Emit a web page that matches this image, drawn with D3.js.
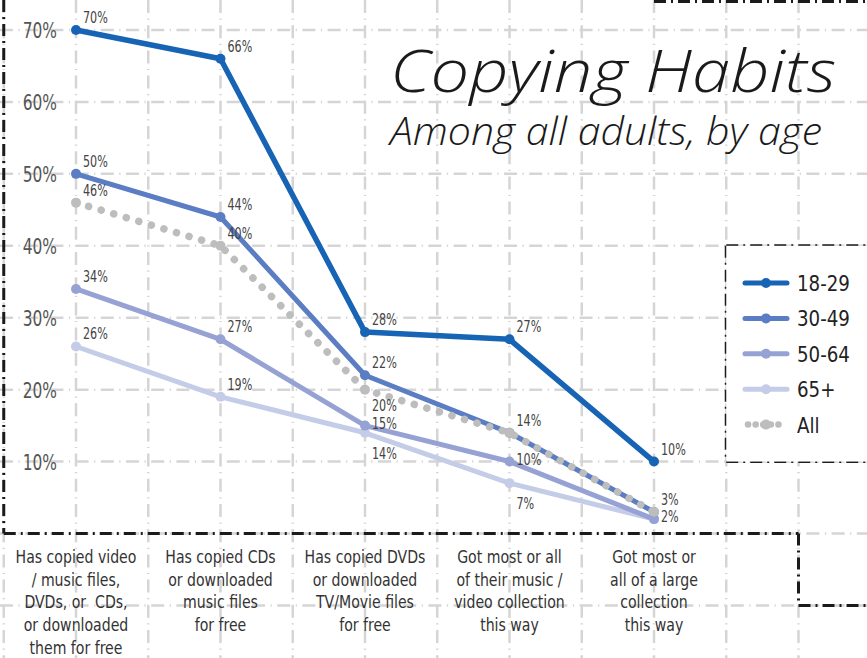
<!DOCTYPE html>
<html>
<head>
<meta charset="utf-8">
<script src="https://cdn.jsdelivr.net/npm/d3@7"></script>
<style>
  body { margin: 0; background: #fff; }
  svg { display: block; }
  text { font-family: "DejaVu Sans Condensed", "DejaVu Sans", sans-serif; }
</style>
</head>
<body>
<div id="chart"></div>
<script>
// categories (one entry per line of the wrapped label)
const categories = [
  ["Has copied video", "/ music files,", "DVDs, or  CDs,", "or downloaded", "them for free"],
  ["Has copied CDs", "or downloaded", "music files", "for free"],
  ["Has copied DVDs", "or downloaded", "TV/Movie files", "for free"],
  ["Got most or all", "of their music /", "video collection", "this way"],
  ["Got most or", "all of a large", "collection", "this way"]
];

// percent values per age group
const age18to29 = [70, 66, 28, 27, 10];
const age30to49 = [50, 44, 22, 14, 3];
const age50to64 = [34, 27, 15, 10, 2];
const age65plus = [26, 19, 14, 7, 2];
const allAdults = [46, 40, 20, 14, 3];

const yTicks = [10, 20, 30, 40, 50, 60, 70];
const seriesNames = ["18-29", "30-49", "50-64", "65+", "All"];

// where each value label sits: a = above right, r = right, b = below right,
// s = a little below, null = hidden (same value as another series)
const labelPlace = {
  "18-29": ["a", "a", "a", "a", "a"],
  "30-49": ["a", "a", "a", "a", "a"],
  "50-64": ["a", "a", "r", "r", "r"],
  "65+":   ["a", "a", "b", "b", null],
  "All":   ["a", "a", "s", null, null]
};

const colors = {
  "18-29": "#1764b4",
  "30-49": "#5a7dc3",
  "50-64": "#97a2d4",
  "65+":   "#c4cce8",
  "All":   "#bdbdbd"
};

const series = [
  {name: "18-29", values: age18to29},
  {name: "30-49", values: age30to49},
  {name: "50-64", values: age50to64},
  {name: "65+", values: age65plus},
  {name: "All", values: allAdults}
];
// drawing order: light first, "All" after 30-49 so dots sit on top
const drawOrder = ["65+", "50-64", "30-49", "All", "18-29"];

const w = 867, h = 658;

// squeeze text horizontally, the original uses a condensed face
function condense(sel, f) {
  sel.each(function() {
    const len = this.getComputedTextLength();
    d3.select(this)
      .attr("textLength", len * f)
      .attr("lengthAdjust", "spacingAndGlyphs");
  });
}

const svg = d3.select("#chart").append("svg")
  .attr("width", w)
  .attr("height", h);

const xScale = d3.scaleLinear().domain([0, 4]).range([76, 654]);
const yScale = d3.scaleLinear().domain([0, 70]).range([533.5, 30]);

// background grid, half a category wide
const grid = svg.append("g").attr("class", "grid");
d3.range(-1, 13).forEach(k => {
  grid.append("line")
    .attr("x1", xScale(k / 2)).attr("x2", xScale(k / 2))
    .attr("y1", 0).attr("y2", h);
});
d3.range(-20, 100, 10).forEach(v => {
  grid.append("line")
    .attr("x1", 0).attr("x2", w)
    .attr("y1", yScale(v)).attr("y2", yScale(v));
});
grid.selectAll("line")
  .attr("stroke", "#d5d5d5")
  .attr("stroke-width", 2.5)
  .attr("stroke-dasharray", "13,5.5,1.2,5.5");

// black dash-dot frames
const frame = svg.append("g").attr("class", "frame");
const frameLines = [
  [xScale(-0.5), 0, xScale(-0.5), yScale(0)],
  [xScale(-0.5), yScale(0), xScale(5), yScale(0)],
  [xScale(5), yScale(0), xScale(5), yScale(-10)],
  [xScale(5), yScale(-10), w, yScale(-10)],
  [xScale(4), 1.5, w, 1.5]
];

// legend box (white inside)
svg.append("rect")
  .attr("x", xScale(4.5)).attr("y", yScale(40))
  .attr("width", w - xScale(4.5) + 10)
  .attr("height", yScale(10) - yScale(40))
  .attr("fill", "#fff");
frameLines.push(
  [xScale(4.5), yScale(40), xScale(4.5), yScale(10)],
  [xScale(4.5), yScale(40), w, yScale(40)],
  [xScale(4.5), yScale(10), w, yScale(10)]
);
frameLines.forEach(l => {
  frame.append("line")
    .attr("x1", l[0]).attr("y1", l[1]).attr("x2", l[2]).attr("y2", l[3]);
});
frame.selectAll("line")
  .attr("stroke", "#1b1b1b")
  .attr("stroke-width", 3)
  .attr("stroke-dasharray", "12,5,2,5");

// y axis labels
const yAxis = d3.axisLeft(yScale)
  .tickValues(yTicks)
  .tickFormat(d => d + "%")
  .tickSize(0)
  .tickPadding(0);
const yg = svg.append("g")
  .attr("transform", "translate(57,0)")
  .call(yAxis);
yg.select(".domain").remove();
yg.selectAll("text")
  .attr("font-size", 22)
  .attr("fill", "#555")
  .attr("dy", "0.36em")
  .style("font-family", null)
  .call(condense, 0.78);

// category labels
const cat = svg.append("g");
categories.forEach((lines, i) => {
  lines.forEach((ln, j) => {
    cat.append("text")
      .attr("text-anchor", "middle")
      .attr("font-size", 18)
      .attr("fill", "#333")
      .attr("x", xScale(i))
      .attr("y", 563 + j * 22.7)
      .style("white-space", "pre")
      .text(ln);
  });
});
cat.selectAll("text").call(condense, 0.87);

// lines
const line = d3.line()
  .x((d, i) => xScale(i))
  .y(d => yScale(d));

drawOrder.forEach(name => {
  const s = series.find(d => d.name === name);
  const g = svg.append("g");
  if (name === "All") {
    g.append("path")
      .datum(s.values)
      .attr("d", line)
      .attr("fill", "none")
      .attr("stroke", colors[name])
      .attr("stroke-width", 7.5)
      .attr("stroke-linecap", "round")
      .attr("stroke-dasharray", "0.1,13");
  } else {
    g.append("path")
      .datum(s.values)
      .attr("d", line)
      .attr("fill", "none")
      .attr("stroke", colors[name])
      .attr("stroke-width", name === "18-29" ? 5.5 : 5)
      .attr("stroke-linejoin", "round");
  }
  g.selectAll("circle")
    .data(s.values)
    .enter()
    .append("circle")
    .attr("cx", (d, i) => xScale(i))
    .attr("cy", d => yScale(d))
    .attr("r", 5)
    .attr("fill", colors[name]);
});

// value labels
const labels = svg.append("g");
const labelDy = {a: -7, r: 3, b: 26, s: 21};
series.forEach(s => {
  s.values.forEach((v, i) => {
    const p = labelPlace[s.name][i];
    if (!p) return;
    labels.append("text")
      .attr("x", xScale(i) + 7)
      .attr("y", yScale(v) + labelDy[p])
      .attr("font-size", 15.5)
      .attr("fill", "#444")
      .text(v + "%");
  });
});
labels.selectAll("text").call(condense, 0.8);

// legend
const legend = svg.append("g");
seriesNames.forEach((name, i) => {
  const y = 283 + i * 35.4;
  if (name === "All") {
    legend.append("line")
      .attr("x1", 748).attr("x2", 786).attr("y1", y).attr("y2", y)
      .attr("stroke", colors[name]).attr("stroke-width", 6.5)
      .attr("stroke-linecap", "round").attr("stroke-dasharray", "0.1,7.5");
  } else {
    legend.append("line")
      .attr("x1", 745).attr("x2", 787).attr("y1", y).attr("y2", y)
      .attr("stroke", colors[name]).attr("stroke-width", 5)
      .attr("stroke-linecap", "round");
  }
  legend.append("circle").attr("cx", 766).attr("cy", y).attr("r", 5).attr("fill", colors[name]);
  legend.append("text")
    .attr("x", 797).attr("y", y + 8)
    .attr("font-size", 22)
    .attr("fill", "#222")
    .text(name);
});
legend.selectAll("text").call(condense, 0.92);

// title
svg.append("text")
  .attr("x", 390).attr("y", 92)
  .attr("font-size", 58)
  .attr("font-style", "italic")
  .attr("font-weight", 300)
  .attr("fill", "#1a1a1a")
  .attr("textLength", 446)
  .attr("lengthAdjust", "spacingAndGlyphs")
  .style("font-family", "'Open Sans', 'DejaVu Sans', sans-serif")
  .text("Copying Habits");
svg.append("text")
  .attr("x", 390).attr("y", 145)
  .attr("font-size", 38)
  .attr("font-style", "italic")
  .attr("font-weight", 300)
  .attr("fill", "#1a1a1a")
  .attr("textLength", 432)
  .attr("lengthAdjust", "spacingAndGlyphs")
  .style("font-family", "'Open Sans', 'DejaVu Sans', sans-serif")
  .text("Among all adults, by age");
</script>
</body>
</html>
